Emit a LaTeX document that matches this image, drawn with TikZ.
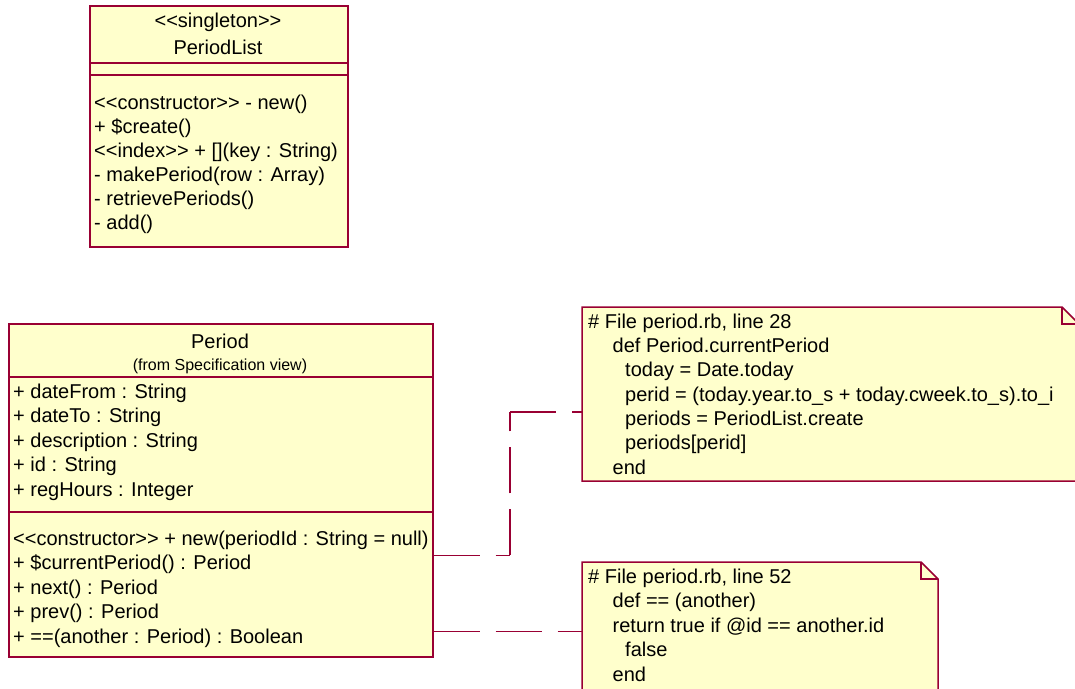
\documentclass[tikz,border=0pt]{standalone}
\usepackage{fontspec}
\newfontfamily\umlfont{Liberation Sans}
\definecolor{umlfill}{HTML}{FFFFCC}
\definecolor{umlline}{HTML}{990033}

\begin{document}
\begin{tikzpicture}[x=1pt,y=-1pt,
  umlbox/.style={draw=umlline, fill=umlfill, line width=1.5pt, rectangle, inner sep=0pt, anchor=north west},
  sepline/.style={draw=umlline, line width=1.2pt},
  txt/.style={anchor=base west, inner sep=0pt, font=\umlfont\fontsize{20}{24}\selectfont},
  ctxt/.style={anchor=base, inner sep=0pt, font=\umlfont\fontsize{20}{24}\selectfont},
  smalltxt/.style={anchor=base, inner sep=0pt, font=\umlfont\fontsize{16}{19}\selectfont},
  conn/.style={draw=umlline, line width=1.2pt, dash pattern=on 46pt off 16pt},
  notebg/.style={draw=umlline, fill=umlfill, line width=1.5pt, line join=miter},
  foldline/.style={draw=umlline, line width=1.2pt},
  holder/.style={inner sep=0pt, anchor=north west},
]
\useasboundingbox (0,0) rectangle (1075,688);
\fill[white] (0,0) rectangle (1075,688);
\clip (0,0) rectangle (1075,688);

% ---------- class PeriodList ----------
\node[umlbox, minimum width=258pt, minimum height=241pt] (plist) at (89,5) {};
\draw[sepline] (89,63) -- (347,63);
\draw[sepline] (89,75) -- (347,75);
\node[ctxt] (plstereo) at (218,27.5) {<<singleton>>};
\node[ctxt] (plname)   at (218,54)   {PeriodList};
\node[txt] (plm1) at (94,109.3) {<<constructor>> - new()};
\node[txt] (plm2) at (94,133.3) {+ \$create()};
\node[txt] (plm3) at (94,157.3) {<<index>> + [](key : String)};
\node[txt] (plm4) at (94,181.5) {- makePeriod(row : Array)};
\node[txt] (plm5) at (94,205.5) {- retrievePeriods()};
\node[txt] (plm6) at (94,229.8) {- add()};

% ---------- class Period ----------
\node[umlbox, minimum width=424pt, minimum height=333pt] (period) at (8,323) {};
\draw[sepline] (8,377) -- (432,377);
\draw[sepline] (8,512) -- (432,512);
\node[ctxt] (pname) at (220,348.3) {Period};
\node[smalltxt] (pfrom) at (220,370) {(from Specification view)};
\node[txt] (pa1) at (13,398.3) {+ dateFrom : String};
\node[txt] (pa2) at (13,422.8) {+ dateTo : String};
\node[txt] (pa3) at (13,447.3) {+ description : String};
\node[txt] (pa4) at (13,471.8) {+ id : String};
\node[txt] (pa5) at (13,496.3) {+ regHours : Integer};
\node[txt] (pm1) at (13,545)   {<<constructor>> + new(periodId : String = null)};
\node[txt] (pm2) at (13,569.5) {+ \$currentPeriod() : Period};
\node[txt] (pm3) at (13,594)   {+ next() : Period};
\node[txt] (pm4) at (13,618.5) {+ prev() : Period};
\node[txt] (pm5) at (13,643)   {+ ==(another : Period) : Boolean};

% ---------- note: currentPeriod ----------
\node[holder, minimum width=497pt, minimum height=174pt] (note1) at (582,307) {};
\path[notebg] (582,307) -- (1062,307) -- (1079,324) -- (1079,481) -- (582,481) -- cycle;
\draw[foldline] (1062,307) -- (1062,324) -- (1079,324);
\node[txt] (n1l1) at (588,328.3) {\# File period.rb, line 28};
\node[txt] (n1l2) at (612.5,352.5) {def Period.currentPeriod};
\node[txt] (n1l3) at (625,376.8) {today = Date.today};
\node[txt] (n1l4) at (625,401.3) {perid = (today.year.to\_s + today.cweek.to\_s).to\_i};
\node[txt] (n1l5) at (625,425.6) {periods = PeriodList.create};
\node[txt] (n1l6) at (625,449.9) {periods[perid]};
\node[txt] (n1l7) at (612.5,474.2) {end};

% ---------- note: == ----------
\node[holder, minimum width=356pt, minimum height=140pt] (note2) at (582,562) {};
\path[notebg] (582,562) -- (921,562) -- (938,579) -- (938,702) -- (582,702) -- cycle;
\draw[foldline] (921,562) -- (921,579) -- (938,579);
\node[txt] (n2l1) at (588,583.3) {\# File period.rb, line 52};
\node[txt] (n2l2) at (612.5,607.8) {def == (another)};
\node[txt] (n2l3) at (612.5,632.3) {return true if @id == another.id};
\node[txt] (n2l4) at (625,656.8) {false};
\node[txt] (n2l5) at (612.5,681.3) {end};

% ---------- note attachments ----------
\coordinate (k1) at (510,555.3);
\coordinate (k2) at (510,412);
\coordinate (k3) at (582,631.7);
\draw[conn] (period.east |- k1) -- (k1);
\draw[conn] (k1) -- (k2);
\draw[conn] (k2) -- (note1.west |- k2);
\draw[conn] (period.east |- k3) -- (note2.west |- k3);
\end{tikzpicture}
\end{document}
